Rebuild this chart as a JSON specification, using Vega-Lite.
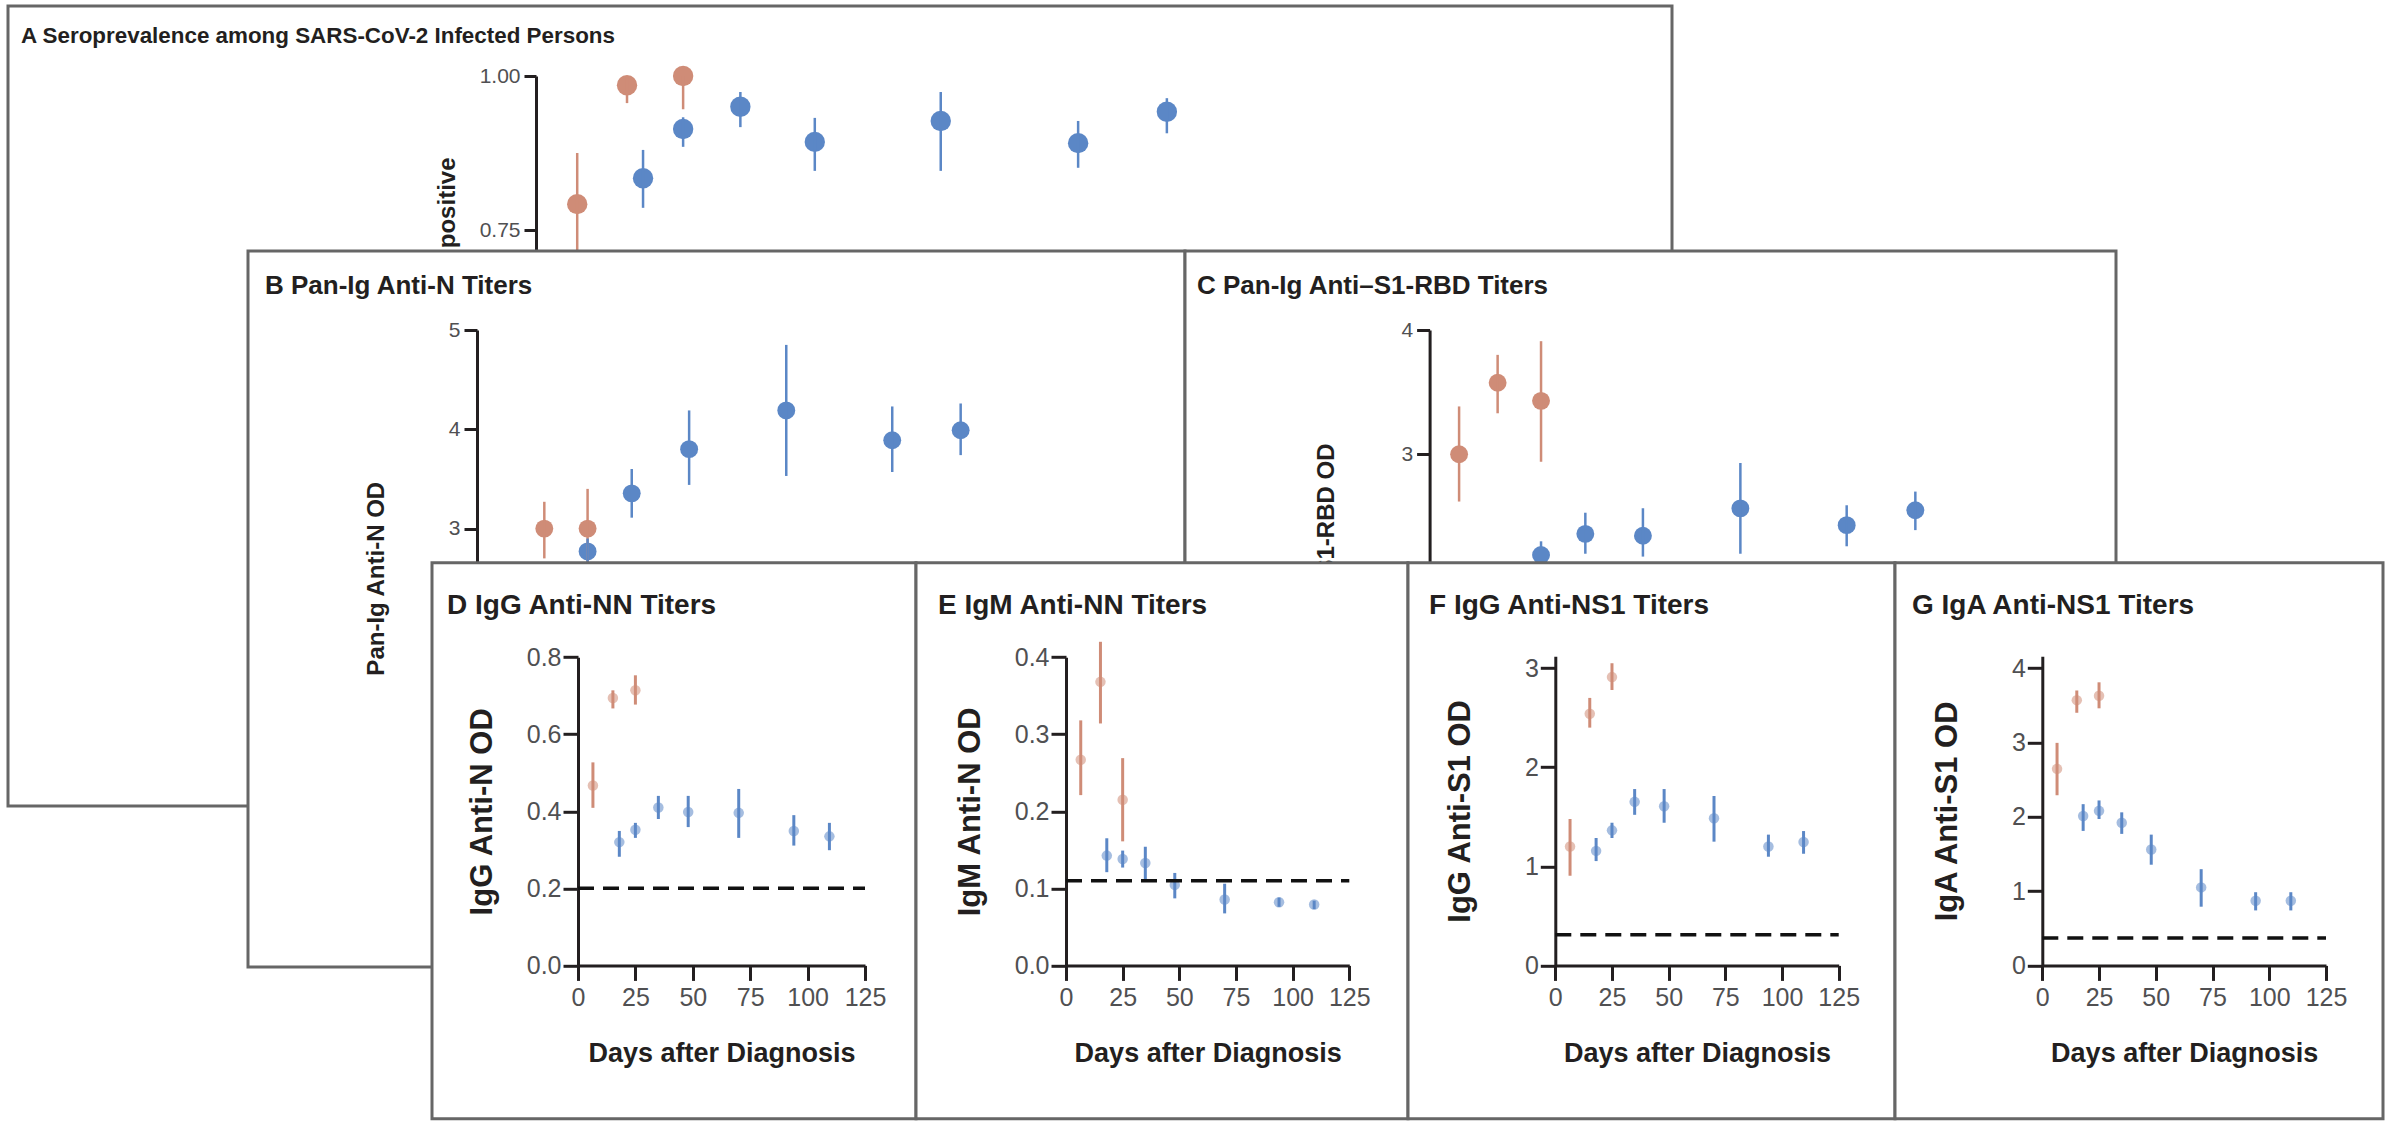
{
  "$schema": "https://vega.github.io/schema/vega-lite/v6.json",
  "background": "white",
  "padding": {"left": 6, "top": 4, "right": 0, "bottom": 0},
  "config": {
    "font": "Liberation Sans",
    "view": {"stroke": null},
    "axis": {
      "grid": false,
      "domainColor": "#231F20", "domainWidth": 3,
      "tickColor": "#231F20", "tickWidth": 3,
      "labelColor": "#505052", "labelFont": "Liberation Sans",
      "titleColor": "#231F20", "titleFont": "Liberation Sans",
      "titleFontWeight": "bold", "labelOverlap": false, "labelFlush": false
    },
    "title": {
      "font": "Liberation Sans",
      "fontWeight": "bold", "color": "#231F20", "anchor": "start", "frame": "group", "baseline": "alphabetic"
    }
  },
  "datasets": {
    "serology": [
      {"panel": "A", "cohort": "early", "day": 6.5, "value": 0.792, "lo": 0.70, "hi": 0.875},
      {"panel": "A", "cohort": "early", "day": 15.2, "value": 0.985, "lo": 0.956, "hi": 1.0},
      {"panel": "A", "cohort": "early", "day": 25, "value": 1.0, "lo": 0.946, "hi": 1.0},
      {"panel": "A", "cohort": "late", "day": 18, "value": 0.834, "lo": 0.786, "hi": 0.880},
      {"panel": "A", "cohort": "late", "day": 25, "value": 0.914, "lo": 0.885, "hi": 0.933},
      {"panel": "A", "cohort": "late", "day": 35, "value": 0.950, "lo": 0.917, "hi": 0.974},
      {"panel": "A", "cohort": "late", "day": 48, "value": 0.893, "lo": 0.846, "hi": 0.932},
      {"panel": "A", "cohort": "late", "day": 70, "value": 0.927, "lo": 0.846, "hi": 0.974},
      {"panel": "A", "cohort": "late", "day": 94, "value": 0.891, "lo": 0.851, "hi": 0.927},
      {"panel": "A", "cohort": "late", "day": 109.5, "value": 0.942, "lo": 0.907, "hi": 0.964},

      {"panel": "B", "cohort": "early", "day": 6.5, "value": 2.3, "lo": 2.0, "hi": 2.6},
      {"panel": "B", "cohort": "early", "day": 15.2, "value": 3.0, "lo": 2.7, "hi": 3.27},
      {"panel": "B", "cohort": "early", "day": 25, "value": 3.0, "lo": 2.65, "hi": 3.40},
      {"panel": "B", "cohort": "late", "day": 18, "value": 2.4, "lo": 2.2, "hi": 2.6},
      {"panel": "B", "cohort": "late", "day": 25, "value": 2.77, "lo": 2.6, "hi": 2.9},
      {"panel": "B", "cohort": "late", "day": 35, "value": 3.355, "lo": 3.11, "hi": 3.60},
      {"panel": "B", "cohort": "late", "day": 48, "value": 3.80, "lo": 3.44, "hi": 4.19},
      {"panel": "B", "cohort": "late", "day": 70, "value": 4.19, "lo": 3.53, "hi": 4.85},
      {"panel": "B", "cohort": "late", "day": 94, "value": 3.89, "lo": 3.57, "hi": 4.23},
      {"panel": "B", "cohort": "late", "day": 109.5, "value": 3.99, "lo": 3.74, "hi": 4.26},

      {"panel": "C", "cohort": "early", "day": 6.5, "value": 3.0, "lo": 2.62, "hi": 3.385},
      {"panel": "C", "cohort": "early", "day": 15.2, "value": 3.576, "lo": 3.33, "hi": 3.80},
      {"panel": "C", "cohort": "early", "day": 25, "value": 3.43, "lo": 2.94, "hi": 3.91},
      {"panel": "C", "cohort": "late", "day": 18, "value": 1.9, "lo": 1.75, "hi": 2.05},
      {"panel": "C", "cohort": "late", "day": 25, "value": 2.19, "lo": 2.05, "hi": 2.30},
      {"panel": "C", "cohort": "late", "day": 35, "value": 2.36, "lo": 2.20, "hi": 2.53},
      {"panel": "C", "cohort": "late", "day": 48, "value": 2.345, "lo": 2.177, "hi": 2.566},
      {"panel": "C", "cohort": "late", "day": 70, "value": 2.565, "lo": 2.20, "hi": 2.93},
      {"panel": "C", "cohort": "late", "day": 94, "value": 2.43, "lo": 2.26, "hi": 2.59},
      {"panel": "C", "cohort": "late", "day": 109.5, "value": 2.55, "lo": 2.39, "hi": 2.70},

      {"panel": "D", "cohort": "early", "day": 6.5, "value": 0.467, "lo": 0.409, "hi": 0.527},
      {"panel": "D", "cohort": "early", "day": 15.2, "value": 0.694, "lo": 0.667, "hi": 0.714},
      {"panel": "D", "cohort": "early", "day": 25, "value": 0.714, "lo": 0.677, "hi": 0.753},
      {"panel": "D", "cohort": "late", "day": 18, "value": 0.320, "lo": 0.282, "hi": 0.349},
      {"panel": "D", "cohort": "late", "day": 25, "value": 0.352, "lo": 0.331, "hi": 0.370},
      {"panel": "D", "cohort": "late", "day": 35, "value": 0.410, "lo": 0.380, "hi": 0.440},
      {"panel": "D", "cohort": "late", "day": 48, "value": 0.398, "lo": 0.359, "hi": 0.440},
      {"panel": "D", "cohort": "late", "day": 70, "value": 0.396, "lo": 0.331, "hi": 0.458},
      {"panel": "D", "cohort": "late", "day": 94, "value": 0.349, "lo": 0.311, "hi": 0.390},
      {"panel": "D", "cohort": "late", "day": 109.5, "value": 0.335, "lo": 0.299, "hi": 0.370},

      {"panel": "E", "cohort": "early", "day": 6.5, "value": 0.267, "lo": 0.221, "hi": 0.318},
      {"panel": "E", "cohort": "early", "day": 15.2, "value": 0.368, "lo": 0.314, "hi": 0.420},
      {"panel": "E", "cohort": "early", "day": 25, "value": 0.215, "lo": 0.161, "hi": 0.269},
      {"panel": "E", "cohort": "late", "day": 18, "value": 0.1425, "lo": 0.121, "hi": 0.165},
      {"panel": "E", "cohort": "late", "day": 25, "value": 0.138, "lo": 0.127, "hi": 0.149},
      {"panel": "E", "cohort": "late", "day": 35, "value": 0.133, "lo": 0.112, "hi": 0.154},
      {"panel": "E", "cohort": "late", "day": 48, "value": 0.1045, "lo": 0.087, "hi": 0.120},
      {"panel": "E", "cohort": "late", "day": 70, "value": 0.0855, "lo": 0.0675, "hi": 0.106},
      {"panel": "E", "cohort": "late", "day": 94, "value": 0.082, "lo": 0.076, "hi": 0.088},
      {"panel": "E", "cohort": "late", "day": 109.5, "value": 0.079, "lo": 0.073, "hi": 0.084},

      {"panel": "F", "cohort": "early", "day": 6.5, "value": 1.20, "lo": 0.905, "hi": 1.478},
      {"panel": "F", "cohort": "early", "day": 15.2, "value": 2.54, "lo": 2.40, "hi": 2.70},
      {"panel": "F", "cohort": "early", "day": 25, "value": 2.91, "lo": 2.78, "hi": 3.05},
      {"panel": "F", "cohort": "late", "day": 18, "value": 1.156, "lo": 1.053, "hi": 1.286},
      {"panel": "F", "cohort": "late", "day": 25, "value": 1.363, "lo": 1.286, "hi": 1.44},
      {"panel": "F", "cohort": "late", "day": 35, "value": 1.651, "lo": 1.52, "hi": 1.78},
      {"panel": "F", "cohort": "late", "day": 48, "value": 1.607, "lo": 1.44, "hi": 1.78},
      {"panel": "F", "cohort": "late", "day": 70, "value": 1.485, "lo": 1.249, "hi": 1.71},
      {"panel": "F", "cohort": "late", "day": 94, "value": 1.20, "lo": 1.097, "hi": 1.32},
      {"panel": "F", "cohort": "late", "day": 109.5, "value": 1.245, "lo": 1.127, "hi": 1.356},

      {"panel": "G", "cohort": "early", "day": 6.5, "value": 2.645, "lo": 2.29, "hi": 2.995},
      {"panel": "G", "cohort": "early", "day": 15.2, "value": 3.57, "lo": 3.40, "hi": 3.70},
      {"panel": "G", "cohort": "early", "day": 25, "value": 3.63, "lo": 3.46, "hi": 3.81},
      {"panel": "G", "cohort": "late", "day": 18, "value": 2.01, "lo": 1.81, "hi": 2.17},
      {"panel": "G", "cohort": "late", "day": 25, "value": 2.08, "lo": 1.97, "hi": 2.22},
      {"panel": "G", "cohort": "late", "day": 35, "value": 1.92, "lo": 1.77, "hi": 2.06},
      {"panel": "G", "cohort": "late", "day": 48, "value": 1.56, "lo": 1.355, "hi": 1.76},
      {"panel": "G", "cohort": "late", "day": 70, "value": 1.05, "lo": 0.79, "hi": 1.295},
      {"panel": "G", "cohort": "late", "day": 94, "value": 0.87, "lo": 0.74, "hi": 0.985},
      {"panel": "G", "cohort": "late", "day": 109.5, "value": 0.87, "lo": 0.74, "hi": 0.985}
    ],
    "cutoffs": [
      {"panel": "D", "od": 0.2, "from": 0, "to": 125},
      {"panel": "E", "od": 0.11, "from": 0, "to": 125},
      {"panel": "F", "od": 0.31, "from": 0, "to": 125},
      {"panel": "G", "od": 0.37, "from": 0, "to": 125}
    ]
  },
  "columns": 1,
  "align": "none",
  "spacing": -559,
  "concat": [
    {
      "width": 1664, "height": 800,
      "view": {"fill": "white", "stroke": "#666666", "strokeWidth": 3},
      "title": {"text": "A    Seroprevalence among SARS-CoV-2 Infected Persons", "fontSize": 22.4, "dx": 13, "offset": -41.7},
      "data": {"name": "serology"},
      "transform": [{"filter": "datum.panel === 'A'"}],
      "layer": [
        {
          "mark": {"type": "circle", "size": 415, "opacity": 1},
          "encoding": {
            "x": {"field": "day", "type": "quantitative", "scale": {"domain": [0, 125], "range": [532, 1247.6]}, "axis": null},
            "y": {"field": "value", "type": "quantitative", "title": "Proportion positive",
                  "scale": {"domain": [0.5, 1], "range": [378, 70]},
                  "axis": {"values": [0.5, 0.75, 1], "format": ".2f", "offset": -528, "tickSize": 12, "labelPadding": 4, "labelFontSize": 21, "titleFontSize": 24, "titleY": 151, "titleAlign": "right", "titlePadding": 20}},
            "color": {"field": "cohort", "type": "nominal", "scale": {"domain": ["early", "late"], "range": ["#CF8C77", "#5B87C6"]}, "legend": null}
          }
        },
        {
          "mark": {"type": "rule", "strokeWidth": 2.5},
          "encoding": {
            "x": {"field": "day", "type": "quantitative", "scale": {"domain": [0, 125], "range": [532, 1247.6]}, "axis": null},
            "y": {"field": "lo", "type": "quantitative", "title": "Proportion positive", "scale": {"domain": [0.5, 1], "range": [378, 70]}},
            "y2": {"field": "hi"},
            "color": {"field": "cohort", "type": "nominal", "scale": {"domain": ["early", "late"], "range": ["#CF8C77", "#5B87C6"]}, "legend": null}
          }
        }
      ]
    },
    {
      "columns": 1,
      "align": "none",
      "spacing": -408.2,
      "concat": [
        {
          "align": "none",
          "spacing": -4,
          "concat": [
            {"width": 242, "height": 10, "view": {"stroke": null}, "data": {"values": []}, "mark": "point"},
            {
              "width": 937, "height": 716,
              "view": {"fill": "white", "stroke": "#666666", "strokeWidth": 3},
              "title": {"text": "B   Pan-Ig Anti-N Titers", "fontSize": 26, "dx": 17, "offset": -47.5},
              "data": {"name": "serology"},
              "transform": [{"filter": "datum.panel === 'B'"}],
              "layer": [
                {
                  "mark": {"type": "circle", "size": 320, "opacity": 1},
                  "encoding": {
                    "x": {"field": "day", "type": "quantitative", "scale": {"domain": [0, 125], "range": [229.2, 781.1]}, "axis": null},
                    "y": {"field": "value", "type": "quantitative", "title": "Pan-Ig Anti-N OD",
                          "scale": {"domain": [0, 5], "range": [575.5, 79]},
                          "axis": {"values": [0, 1, 2, 3, 4, 5], "format": "d", "offset": -229, "tickSize": 13, "labelPadding": 4, "labelFontSize": 21, "titleFontSize": 24, "titlePadding": 60}},
                    "color": {"field": "cohort", "type": "nominal", "scale": {"domain": ["early", "late"], "range": ["#CF8C77", "#5B87C6"]}, "legend": null}
                  }
                },
                {
                  "mark": {"type": "rule", "strokeWidth": 2.5},
                  "encoding": {
                    "x": {"field": "day", "type": "quantitative", "scale": {"domain": [0, 125], "range": [229.2, 781.1]}, "axis": null},
                    "y": {"field": "lo", "type": "quantitative", "title": "Pan-Ig Anti-N OD", "scale": {"domain": [0, 5], "range": [575.5, 79]}},
                    "y2": {"field": "hi"},
                    "color": {"field": "cohort", "type": "nominal", "scale": {"domain": ["early", "late"], "range": ["#CF8C77", "#5B87C6"]}, "legend": null}
                  }
                }
              ]
            },
            {
              "width": 931, "height": 716,
              "view": {"fill": "white", "stroke": "#666666", "strokeWidth": 3},
              "title": {"text": "C   Pan-Ig Anti–S1-RBD Titers", "fontSize": 26, "dx": 12, "offset": -47.5},
              "data": {"name": "serology"},
              "transform": [{"filter": "datum.panel === 'C'"}],
              "layer": [
                {
                  "mark": {"type": "circle", "size": 320, "opacity": 1},
                  "encoding": {
                    "x": {"field": "day", "type": "quantitative", "scale": {"domain": [0, 125], "range": [245.3, 799]}, "axis": null},
                    "y": {"field": "value", "type": "quantitative", "title": "Pan-Ig Anti–S1-RBD OD",
                          "scale": {"domain": [0, 4], "range": [576.2, 79]},
                          "axis": {"values": [0, 1, 2, 3, 4], "format": "d", "offset": -244.6, "tickSize": 13, "labelPadding": 4, "labelFontSize": 21, "titleFontSize": 24, "titlePadding": 62}},
                    "color": {"field": "cohort", "type": "nominal", "scale": {"domain": ["early", "late"], "range": ["#CF8C77", "#5B87C6"]}, "legend": null}
                  }
                },
                {
                  "mark": {"type": "rule", "strokeWidth": 2.5},
                  "encoding": {
                    "x": {"field": "day", "type": "quantitative", "scale": {"domain": [0, 125], "range": [245.3, 799]}, "axis": null},
                    "y": {"field": "lo", "type": "quantitative", "title": "Pan-Ig Anti–S1-RBD OD", "scale": {"domain": [0, 4], "range": [576.2, 79]}},
                    "y2": {"field": "hi"},
                    "color": {"field": "cohort", "type": "nominal", "scale": {"domain": ["early", "late"], "range": ["#CF8C77", "#5B87C6"]}, "legend": null}
                  }
                }
              ]
            }
          ]
        },
        {
          "align": "none",
          "spacing": -4,
          "concat": [
            {"width": 426, "height": 10, "view": {"stroke": null}, "data": {"values": []}, "mark": "point"},
            {
              "width": 484, "height": 556,
              "view": {"fill": "white", "stroke": "#666666", "strokeWidth": 3},
              "title": {"text": "D   IgG Anti-NN Titers", "fontSize": 28, "dx": 15, "offset": -56.9},
              "layer": [
                {
                  "data": {"name": "serology"},
                  "transform": [{"filter": "datum.panel === 'D'"}],
                  "mark": {"type": "circle", "size": 110, "opacity": 0.55},
                  "encoding": {
                    "x": {"field": "day", "type": "quantitative", "title": "Days after Diagnosis",
                          "scale": {"domain": [0, 125], "range": [146, 433]},
                          "axis": {"values": [0, 25, 50, 75, 100, 125], "offset": -153.4, "tickSize": 15, "labelFontSize": 25, "labelPadding": 5, "titleFontSize": 27, "titlePadding": 30}},
                    "y": {"field": "value", "type": "quantitative", "title": "IgG Anti-N OD",
                          "scale": {"domain": [0, 0.8], "range": [402.6, 94.4]},
                          "axis": {"values": [0, 0.2, 0.4, 0.6, 0.8], "format": ".1f", "offset": -146, "tickSize": 15, "labelPadding": 2, "labelFontSize": 25, "titleFontSize": 31, "titlePadding": 28}},
                    "color": {"field": "cohort", "type": "nominal", "scale": {"domain": ["early", "late"], "range": ["#CF8C77", "#5B87C6"]}, "legend": null}
                  }
                },
                {
                  "data": {"name": "serology"},
                  "transform": [{"filter": "datum.panel === 'D'"}],
                  "mark": {"type": "rule", "strokeWidth": 3},
                  "encoding": {
                    "x": {"field": "day", "type": "quantitative", "title": "Days after Diagnosis", "scale": {"domain": [0, 125], "range": [146, 433]}},
                    "y": {"field": "lo", "type": "quantitative", "title": "IgG Anti-N OD", "scale": {"domain": [0, 0.8], "range": [402.6, 94.4]}},
                    "y2": {"field": "hi"},
                    "color": {"field": "cohort", "type": "nominal", "scale": {"domain": ["early", "late"], "range": ["#CF8C77", "#5B87C6"]}, "legend": null}
                  }
                },
                {
                  "data": {"name": "cutoffs"},
                  "transform": [{"filter": "datum.panel === 'D'"}],
                  "mark": {"type": "rule", "strokeWidth": 3.5, "strokeDash": [16, 9], "color": "#111111"},
                  "encoding": {
                    "x": {"field": "from", "type": "quantitative", "title": "Days after Diagnosis", "scale": {"domain": [0, 125], "range": [146, 433]}},
                    "x2": {"field": "to"},
                    "y": {"field": "od", "type": "quantitative", "title": "IgG Anti-N OD", "scale": {"domain": [0, 0.8], "range": [402.6, 94.4]}}
                  }
                }
              ]
            },
            {
              "width": 492, "height": 556,
              "view": {"fill": "white", "stroke": "#666666", "strokeWidth": 3},
              "title": {"text": "E   IgM Anti-NN Titers", "fontSize": 28, "dx": 22, "offset": -56.9},
              "layer": [
                {
                  "data": {"name": "serology"},
                  "transform": [{"filter": "datum.panel === 'E'"}],
                  "mark": {"type": "circle", "size": 110, "opacity": 0.55},
                  "encoding": {
                    "x": {"field": "day", "type": "quantitative", "title": "Days after Diagnosis",
                          "scale": {"domain": [0, 125], "range": [150, 433.3]},
                          "axis": {"values": [0, 25, 50, 75, 100, 125], "offset": -153.4, "tickSize": 15, "labelFontSize": 25, "labelPadding": 5, "titleFontSize": 27, "titlePadding": 30}},
                    "y": {"field": "value", "type": "quantitative", "title": "IgM Anti-N OD",
                          "scale": {"domain": [0, 0.4], "range": [402.6, 94.4]},
                          "axis": {"values": [0, 0.1, 0.2, 0.3, 0.4], "format": ".1f", "offset": -150, "tickSize": 15, "labelPadding": 2, "labelFontSize": 25, "titleFontSize": 31, "titlePadding": 28}},
                    "color": {"field": "cohort", "type": "nominal", "scale": {"domain": ["early", "late"], "range": ["#CF8C77", "#5B87C6"]}, "legend": null}
                  }
                },
                {
                  "data": {"name": "serology"},
                  "transform": [{"filter": "datum.panel === 'E'"}],
                  "mark": {"type": "rule", "strokeWidth": 3},
                  "encoding": {
                    "x": {"field": "day", "type": "quantitative", "title": "Days after Diagnosis", "scale": {"domain": [0, 125], "range": [150, 433.3]}},
                    "y": {"field": "lo", "type": "quantitative", "title": "IgM Anti-N OD", "scale": {"domain": [0, 0.4], "range": [402.6, 94.4]}},
                    "y2": {"field": "hi"},
                    "color": {"field": "cohort", "type": "nominal", "scale": {"domain": ["early", "late"], "range": ["#CF8C77", "#5B87C6"]}, "legend": null}
                  }
                },
                {
                  "data": {"name": "cutoffs"},
                  "transform": [{"filter": "datum.panel === 'E'"}],
                  "mark": {"type": "rule", "strokeWidth": 3.5, "strokeDash": [16, 9], "color": "#111111"},
                  "encoding": {
                    "x": {"field": "from", "type": "quantitative", "title": "Days after Diagnosis", "scale": {"domain": [0, 125], "range": [150, 433.3]}},
                    "x2": {"field": "to"},
                    "y": {"field": "od", "type": "quantitative", "title": "IgM Anti-N OD", "scale": {"domain": [0, 0.4], "range": [402.6, 94.4]}}
                  }
                }
              ]
            },
            {
              "width": 487, "height": 556,
              "view": {"fill": "white", "stroke": "#666666", "strokeWidth": 3},
              "title": {"text": "F   IgG Anti-NS1 Titers", "fontSize": 28, "dx": 21, "offset": -56.9},
              "layer": [
                {
                  "data": {"name": "serology"},
                  "transform": [{"filter": "datum.panel === 'F'"}],
                  "mark": {"type": "circle", "size": 110, "opacity": 0.55},
                  "encoding": {
                    "x": {"field": "day", "type": "quantitative", "title": "Days after Diagnosis",
                          "scale": {"domain": [0, 125], "range": [147.3, 430.7]},
                          "axis": {"values": [0, 25, 50, 75, 100, 125], "offset": -153.4, "tickSize": 15, "labelFontSize": 25, "labelPadding": 5, "titleFontSize": 27, "titlePadding": 30}},
                    "y": {"field": "value", "type": "quantitative", "title": "IgG Anti-S1 OD",
                          "scale": {"domain": [0, 3.12], "range": [402.6, 93.5]},
                          "axis": {"values": [0, 1, 2, 3], "format": "d", "offset": -147.3, "tickSize": 15, "labelPadding": 2, "labelFontSize": 25, "titleFontSize": 31, "titlePadding": 48}},
                    "color": {"field": "cohort", "type": "nominal", "scale": {"domain": ["early", "late"], "range": ["#CF8C77", "#5B87C6"]}, "legend": null}
                  }
                },
                {
                  "data": {"name": "serology"},
                  "transform": [{"filter": "datum.panel === 'F'"}],
                  "mark": {"type": "rule", "strokeWidth": 3},
                  "encoding": {
                    "x": {"field": "day", "type": "quantitative", "title": "Days after Diagnosis", "scale": {"domain": [0, 125], "range": [147.3, 430.7]}},
                    "y": {"field": "lo", "type": "quantitative", "title": "IgG Anti-S1 OD", "scale": {"domain": [0, 3.12], "range": [402.6, 93.5]}},
                    "y2": {"field": "hi"},
                    "color": {"field": "cohort", "type": "nominal", "scale": {"domain": ["early", "late"], "range": ["#CF8C77", "#5B87C6"]}, "legend": null}
                  }
                },
                {
                  "data": {"name": "cutoffs"},
                  "transform": [{"filter": "datum.panel === 'F'"}],
                  "mark": {"type": "rule", "strokeWidth": 3.5, "strokeDash": [16, 9], "color": "#111111"},
                  "encoding": {
                    "x": {"field": "from", "type": "quantitative", "title": "Days after Diagnosis", "scale": {"domain": [0, 125], "range": [147.3, 430.7]}},
                    "x2": {"field": "to"},
                    "y": {"field": "od", "type": "quantitative", "title": "IgG Anti-S1 OD", "scale": {"domain": [0, 3.12], "range": [402.6, 93.5]}}
                  }
                }
              ]
            },
            {
              "width": 488, "height": 556,
              "view": {"fill": "white", "stroke": "#666666", "strokeWidth": 3},
              "title": {"text": "G   IgA Anti-NS1 Titers", "fontSize": 28, "dx": 17, "offset": -56.9},
              "layer": [
                {
                  "data": {"name": "serology"},
                  "transform": [{"filter": "datum.panel === 'G'"}],
                  "mark": {"type": "circle", "size": 110, "opacity": 0.55},
                  "encoding": {
                    "x": {"field": "day", "type": "quantitative", "title": "Days after Diagnosis",
                          "scale": {"domain": [0, 125], "range": [147.3, 431]},
                          "axis": {"values": [0, 25, 50, 75, 100, 125], "offset": -153.4, "tickSize": 15, "labelFontSize": 25, "labelPadding": 5, "titleFontSize": 27, "titlePadding": 30}},
                    "y": {"field": "value", "type": "quantitative", "title": "IgA Anti-S1 OD",
                          "scale": {"domain": [0, 4.16], "range": [402.6, 93.5]},
                          "axis": {"values": [0, 1, 2, 3, 4], "format": "d", "offset": -147.3, "tickSize": 15, "labelPadding": 2, "labelFontSize": 25, "titleFontSize": 31, "titlePadding": 48}},
                    "color": {"field": "cohort", "type": "nominal", "scale": {"domain": ["early", "late"], "range": ["#CF8C77", "#5B87C6"]}, "legend": null}
                  }
                },
                {
                  "data": {"name": "serology"},
                  "transform": [{"filter": "datum.panel === 'G'"}],
                  "mark": {"type": "rule", "strokeWidth": 3},
                  "encoding": {
                    "x": {"field": "day", "type": "quantitative", "title": "Days after Diagnosis", "scale": {"domain": [0, 125], "range": [147.3, 431]}},
                    "y": {"field": "lo", "type": "quantitative", "title": "IgA Anti-S1 OD", "scale": {"domain": [0, 4.16], "range": [402.6, 93.5]}},
                    "y2": {"field": "hi"},
                    "color": {"field": "cohort", "type": "nominal", "scale": {"domain": ["early", "late"], "range": ["#CF8C77", "#5B87C6"]}, "legend": null}
                  }
                },
                {
                  "data": {"name": "cutoffs"},
                  "transform": [{"filter": "datum.panel === 'G'"}],
                  "mark": {"type": "rule", "strokeWidth": 3.5, "strokeDash": [16, 9], "color": "#111111"},
                  "encoding": {
                    "x": {"field": "from", "type": "quantitative", "title": "Days after Diagnosis", "scale": {"domain": [0, 125], "range": [147.3, 431]}},
                    "x2": {"field": "to"},
                    "y": {"field": "od", "type": "quantitative", "title": "IgA Anti-S1 OD", "scale": {"domain": [0, 4.16], "range": [402.6, 93.5]}}
                  }
                }
              ]
            }
          ]
        }
      ]
    }
  ]
}
